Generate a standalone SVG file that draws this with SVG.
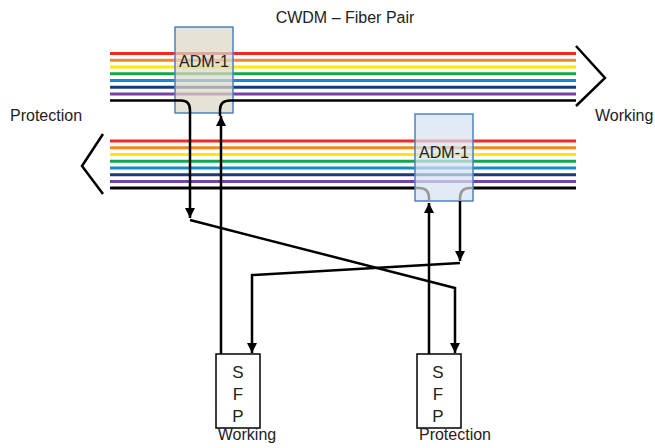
<svg xmlns="http://www.w3.org/2000/svg" width="655" height="448" viewBox="0 0 655 448">
<defs>
<marker id="ah" viewBox="0 0 10 10" refX="10" refY="5" markerWidth="4" markerHeight="4" orient="auto" markerUnits="strokeWidth">
<path d="M0 0 L10 5 L0 10 Z" fill="#000"/>
</marker>
<style>
.t{font-family:"Liberation Sans",Arial,sans-serif;font-size:16px;fill:#222}
.s{font-size:17px}
.f{fill:none;stroke-width:3}
.c{fill:none;stroke:#000;stroke-width:2.5}
.g{fill:none;stroke:#999;stroke-width:2.5}
.box{stroke:#4f81bd;stroke-width:1.5}
.sfp{fill:#fff;stroke:#000;stroke-width:1.5}
</style>
</defs>
<rect width="655" height="448" fill="#fff"/>
<text class="t" x="345" y="23" text-anchor="middle">CWDM – Fiber Pair</text>
<text class="t" x="10" y="121">Protection</text>
<text class="t" x="595" y="121">Working</text>
<g id="bundle-top">
<path class="f" stroke="#ee2a24" d="M110 53.5H576"/>
<path class="f" stroke="#ef8a1f" d="M110 60.3H576"/>
<path class="f" stroke="#ffe800" d="M110 67H576"/>
<path class="f" stroke="#16a54a" d="M110 73.8H576"/>
<path class="f" stroke="#1b86c8" d="M110 80.5H576"/>
<path class="f" stroke="#1b3a7a" d="M110 87.3H576"/>
<path class="f" stroke="#7a3fa5" d="M110 94H576"/>
<path class="c" d="M576 46L605 78L576 106"/>
</g>
<g id="bundle-bottom">
<path class="f" stroke="#ee2a24" d="M110 141H576"/>
<path class="f" stroke="#ef8a1f" d="M110 147.8H576"/>
<path class="f" stroke="#ffe800" d="M110 154.5H576"/>
<path class="f" stroke="#16a54a" d="M110 161.2H576"/>
<path class="f" stroke="#1b86c8" d="M110 168H576"/>
<path class="f" stroke="#1b3a7a" d="M110 174.7H576"/>
<path class="f" stroke="#7a3fa5" d="M110 181.4H576"/>
<path class="f" stroke="#000" d="M110 188H416M473 188H576"/>
<path class="c" d="M103 134L82 166L103 194"/>
</g>
<g id="adm-top">
<rect class="box" x="175" y="27" width="58" height="86" fill="#dcd8c6" fill-opacity="0.72"/>
<text class="t" x="204" y="67" text-anchor="middle">ADM-1</text>
</g>
<g id="adm-bottom">
<rect class="box" x="415" y="114" width="58" height="87" fill="#d6e2f1" fill-opacity="0.72"/>
<text class="t" x="444" y="158" text-anchor="middle">ADM-1</text>
<path class="g" d="M416 188H419Q429 188 429 198V201"/>
<path class="g" d="M460 201V198Q460 188 470 188H473"/>
</g>
<g id="sfp-working">
<rect class="sfp" x="216" y="354" width="44" height="74"/>
<text class="t s" x="238" y="378" text-anchor="middle">S</text>
<text class="t s" x="238" y="400" text-anchor="middle">F</text>
<text class="t s" x="238" y="422" text-anchor="middle">P</text>
<text class="t" x="247" y="440" text-anchor="middle">Working</text>
</g>
<g id="sfp-protection">
<rect class="sfp" x="417" y="354" width="44" height="74"/>
<text class="t s" x="438" y="378" text-anchor="middle">S</text>
<text class="t s" x="438" y="400" text-anchor="middle">F</text>
<text class="t s" x="438" y="422" text-anchor="middle">P</text>
<text class="t" x="455" y="440" text-anchor="middle">Protection</text>
</g>
<g id="connectors">
<path class="c" d="M110 100.5H181Q190 100.5 190 110V218" marker-end="url(#ah)"/>
<path class="c" d="M190 220L455 288V353" marker-end="url(#ah)"/>
<path class="c" d="M221 354V116" marker-end="url(#ah)"/>
<path class="c" d="M220 116V110Q220 100.5 230 100.5H576"/>
<path class="c" d="M429 354V203" marker-end="url(#ah)"/>
<path class="c" d="M460 201V261" marker-end="url(#ah)"/>
<path class="c" d="M460 263L252 275V353" marker-end="url(#ah)"/>
</g>
</svg>
